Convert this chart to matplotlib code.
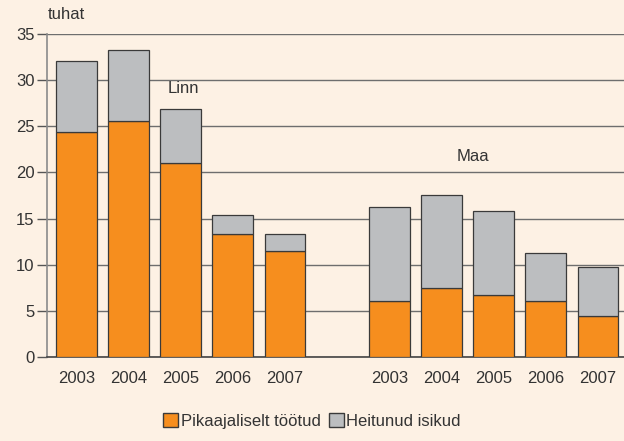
import numpy as np
import matplotlib
matplotlib.use('Agg')
import matplotlib.pyplot as plt
import matplotlib.patches as mpatches

plt.rcParams['font.family'] = ['Liberation Sans', 'DejaVu Sans']

years = ['2003', '2004', '2005', '2006', '2007']
groups = ['Linn', 'Maa']
# thousands
linn_long = [24.4, 25.6, 21.0, 13.3, 11.5]
linn_total = [32.1, 33.3, 26.9, 15.4, 13.3]
maa_long = [6.1, 7.5, 6.7, 6.1, 4.4]
maa_total = [16.2, 17.5, 15.8, 11.3, 9.8]

BG = '#FDF1E4'
ORANGE = '#F68E1E'
GREY = '#BCBEC0'
EDGE = '#3A3A3A'
TEXT = '#333333'
FS = 12

long_vals = np.array(linn_long + maa_long)
disc_vals = np.array(linn_total + maa_total) - long_vals
x = np.array(list(range(5)) + list(range(6, 11)))

fig = plt.figure(figsize=(6.24, 4.41), dpi=100)
fig.patch.set_facecolor(BG)
ax = fig.add_axes([0.0753, 0.1905, 0.9247, 0.7324])
ax.set_facecolor(BG)

ax.bar(x, long_vals, width=0.78, color=ORANGE, edgecolor=EDGE, linewidth=0.9, zorder=3)
ax.bar(x, disc_vals, bottom=long_vals, width=0.78, color=GREY, edgecolor=EDGE,
       linewidth=0.9, zorder=3)

ax.set_xlim(-0.56, 10.5)
ax.set_ylim(0, 35)
ax.set_yticks(np.arange(0, 36, 5))
ax.yaxis.grid(True, color='#6E6E6E', linewidth=1.0, zorder=0)
ax.set_axisbelow(True)
ax.tick_params(axis='y', length=7, width=1, color='#555555', labelsize=FS,
               labelcolor=TEXT, pad=2)
ax.set_xticks(x)
ax.set_xticklabels(years + years)
ax.tick_params(axis='x', length=0, labelsize=FS, labelcolor=TEXT, pad=10)

for s in ['top', 'right']:
    ax.spines[s].set_visible(False)
ax.spines['left'].set_color('#8A8A8A')
ax.spines['left'].set_linewidth(1.2)
ax.spines['bottom'].set_color('#444444')
ax.spines['bottom'].set_linewidth(1.2)

ax.text(2.05, 28.3, groups[0], ha='center', va='bottom', fontsize=FS, color=TEXT)
ax.text(7.6, 20.9, groups[1], ha='center', va='bottom', fontsize=FS, color=TEXT)
fig.text(0.077, 0.966, 'tuhat', ha='left', va='center', fontsize=FS, color=TEXT)

handles = [mpatches.Patch(facecolor=ORANGE, edgecolor=EDGE, label='Pikaajaliselt töötud'),
           mpatches.Patch(facecolor=GREY, edgecolor=EDGE, label='Heitunud isikud')]
fig.legend(handles=handles, loc='center', bbox_to_anchor=(0.5, 0.046), ncol=2,
           frameon=False, fontsize=FS, handlelength=0.9, handleheight=0.9,
           handletextpad=0.15, columnspacing=0.5, labelcolor=TEXT)

fig.savefig('out.png', dpi=100, facecolor=BG)
